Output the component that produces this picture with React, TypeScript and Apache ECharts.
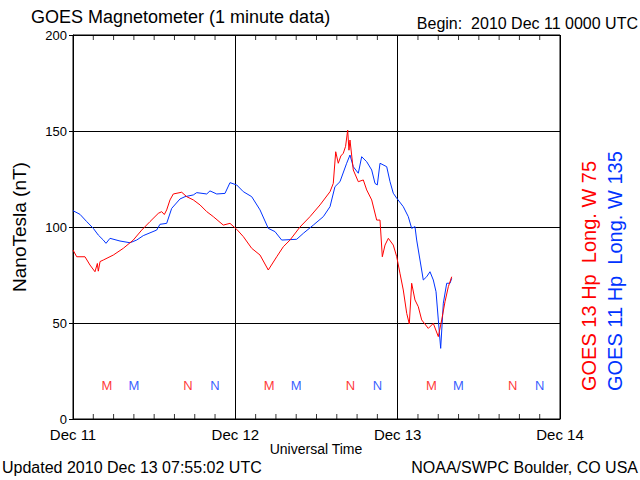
import React, { useEffect, useRef } from "react";
import * as echarts from "echarts";

// Hours since 2010 Dec 11 00:00 UTC
const dayLabels = ["Dec 11", "Dec 12", "Dec 13", "Dec 14"];

const redHours = [0, 0.55, 1.77, 2.51, 3.25, 3.6, 3.74, 4.0, 4.48, 5.96, 7.44, 8.91, 10.16, 11.38, 12.61, 13.11, 13.5, 13.85, 14.34, 14.83, 16.07, 16.81, 17.79, 18.78, 19.77, 20.74, 22.22, 23.21, 24.2, 25.18, 26.42, 27.65, 28.87, 30.12, 31.09, 32.08, 33.56, 35.04, 36.52, 38, 38.48, 38.84, 39.22, 39.6, 39.96, 40.3, 40.61, 40.8, 40.95, 41.44, 42.18, 42.92, 43.42, 44.16, 44.9, 45.39, 45.73, 46.13, 46.62, 47.35, 47.86, 48.34, 48.83, 49.34, 49.72, 50.07, 50.56, 51.05, 51.55, 52.53, 53.27, 54.01, 54.51, 55, 55.49, 55.99];
const redNT = [88, 84.5, 84.5, 80.2, 76.7, 81, 77, 82, 82.8, 85.4, 88.9, 93.2, 98.4, 102.8, 107.1, 108, 106.5, 108.9, 114.1, 117.2, 118.1, 115.8, 114.1, 111.5, 108, 105.4, 101, 101.9, 98.8, 95, 88.9, 85.4, 77.6, 84.5, 89.7, 93.2, 100, 105.4, 111.5, 118.4, 122.7, 139.2, 133.2, 137, 138.4, 142, 150.5, 140, 145.3, 129.7, 123.6, 124.5, 119.3, 114.1, 103.6, 103.6, 84.5, 90.6, 94.1, 90.6, 84.5, 75.9, 67.2, 55, 49.5, 70.7, 62, 58.5, 51.6, 47.2, 49.8, 42.9, 51.6, 61.1, 68.9, 74.1];

const blueHours = [0, 1.03, 2.03, 3, 3.74, 4.48, 4.88, 5.47, 6.95, 8.43, 9.42, 10.39, 12.37, 12.86, 13.85, 14.59, 15.82, 16.56, 17.79, 18.29, 19.77, 20.25, 21.25, 22.47, 23.21, 24.2, 25.18, 26.42, 27.65, 28.87, 29.86, 30.85, 33.07, 34.05, 35.53, 37.01, 38, 38.73, 39.47, 40.46, 40.95, 41.44, 42.18, 42.68, 43.42, 44.16, 44.65, 44.99, 45.39, 46.38, 46.87, 47.35, 47.86, 48.83, 49.57, 50.07, 50.56, 50.81, 51.3, 51.79, 52.29, 52.78, 53.27, 53.67, 54.01, 54.36, 54.75, 55.25, 55.74, 55.99];
const blueNT = [108.5, 106.6, 102.8, 99.3, 95.8, 93.2, 91.5, 94.1, 92.7, 91.8, 93.2, 95.5, 98.4, 101.4, 101.9, 109.7, 114.6, 115.8, 116.7, 117.9, 117.2, 118.8, 117.2, 117.5, 123.1, 121.9, 118.4, 115.8, 108.9, 99.3, 97.6, 93.2, 93.6, 96.7, 101, 105.4, 110.6, 121, 123.6, 133.2, 137.5, 131.4, 128, 136.6, 134, 129.7, 122.7, 121.9, 133.2, 131.4, 123.6, 117.6, 115, 110.6, 105.4, 99.3, 100.2, 93.2, 82.8, 72.4, 74.1, 76.7, 72.4, 66.3, 51.6, 36.8, 60.3, 70.7, 70.7, 73.3];

// Local midnight (M) and noon (N) markers
const redMidnight = [5, 29, 53];
const blueMidnight = [9, 33, 57];
const redNoon = [17, 41, 65];
const blueNoon = [21, 45, 69];
const markerLevel = 17.5;

// Minor time ticks every 3 hours
const tickHours = [3, 6, 9, 12, 15, 18, 21, 27, 30, 33, 36, 39, 42, 45, 51, 54, 57, 60, 63, 66, 69];
const yMin = 0;
const yMax = 200;

const RED = "#ff0000";
const BLUE = "#0033ff";
const FONT = "Liberation Sans";

function pairs(xs: number[], ys: number[]) {
  return xs.map((x, i) => [x, ys[i]]);
}

function markerSeries(hours: number[], letter: string, color: string) {
  return {
    type: "scatter",
    data: hours.map((h) => [h, markerLevel]),
    symbolSize: 1,
    itemStyle: { color: "rgba(0,0,0,0)" },
    label: {
      show: true,
      position: "inside",
      formatter: letter,
      color,
      fontFamily: FONT,
      fontSize: 13,
    },
    silent: true,
  };
}

function tickSeries(level: number, dy: number) {
  return {
    type: "scatter",
    data: tickHours.map((h) => [h, level]),
    symbol: "rect",
    symbolSize: [1, 5],
    symbolOffset: [0, dy],
    itemStyle: { color: "#000" },
    clip: false,
    silent: true,
    z: 5,
  };
}

export default function App() {
  const ref = useRef<HTMLDivElement>(null);
  useEffect(() => {
    if (!ref.current) return;
    const chart = echarts.init(ref.current, undefined, { renderer: "svg" });
    chart.setOption({
      animation: false,
      backgroundColor: "#fff",
      textStyle: { fontFamily: FONT },
      grid: { left: 73, right: 80, top: 35, bottom: 61, show: true, borderColor: "#000", borderWidth: 1 },
      xAxis: {
        type: "value",
        position: "bottom",
        min: 0,
        max: 72,
        interval: 24,
        axisLine: { show: true, lineStyle: { color: "#000", width: 1 } },
        axisTick: { show: false },
        axisLabel: {
          color: "#000",
          fontSize: 15,
          fontFamily: FONT,
          margin: 8,
          formatter: (v: number) => dayLabels[Math.round(v / 24)] ?? "",
        },
        splitLine: { show: true, lineStyle: { color: "#000", width: 1 } },
      },
      yAxis: {
        type: "value",
        min: yMin,
        max: yMax,
        interval: 50,
        axisLine: { show: true, lineStyle: { color: "#000" } },
        axisTick: { show: true, length: 4, lineStyle: { color: "#000" } },
        axisLabel: { color: "#000", fontSize: 13, fontFamily: FONT, margin: 6 },
        splitLine: { show: true, lineStyle: { color: "#000", width: 1 } },
        name: "NanoTesla (nT)",
        nameLocation: "middle",
        nameGap: 44,
        nameTextStyle: { color: "#000", fontSize: 19, fontFamily: FONT },
      },
      series: [
        {
          type: "line",
          data: pairs(blueHours, blueNT),
          showSymbol: false,
          lineStyle: { color: BLUE, width: 1 },
          itemStyle: { color: BLUE },
          silent: true,
        },
        {
          type: "line",
          data: pairs(redHours, redNT),
          showSymbol: false,
          lineStyle: { color: RED, width: 1 },
          itemStyle: { color: RED },
          silent: true,
        },
        markerSeries(redMidnight, "M", RED),
        markerSeries(blueMidnight, "M", BLUE),
        markerSeries(redNoon, "N", RED),
        markerSeries(blueNoon, "N", BLUE),
        tickSeries(yMin, -2.5),
        tickSeries(yMax, 2.5),
      ],
      graphic: [
        {
          type: "text",
          left: 31,
          top: 8,
          style: { text: "GOES Magnetometer (1 minute data)", fontSize: 18, fontFamily: FONT, fill: "#000" },
        },
        {
          type: "text",
          right: 2,
          top: 15,
          style: { text: "Begin:  2010 Dec 11 0000 UTC", fontSize: 16, fontFamily: FONT, fill: "#000" },
        },
        {
          type: "text",
          x: 316,
          y: 449,
          style: { text: "Universal Time", fontSize: 14, fontFamily: FONT, fill: "#000", align: "center", verticalAlign: "middle" },
        },
        {
          type: "text",
          left: 2,
          top: 459,
          style: { text: "Updated 2010 Dec 13 07:55:02 UTC", fontSize: 16, fontFamily: FONT, fill: "#000" },
        },
        {
          type: "text",
          right: 2,
          top: 459,
          style: { text: "NOAA/SWPC Boulder, CO USA", fontSize: 16, fontFamily: FONT, fill: "#000" },
        },
        {
          type: "text",
          x: 589,
          y: 391,
          rotation: Math.PI / 2,
          style: { text: "GOES 13 Hp  Long. W 75", fontSize: 20, fontFamily: FONT, fill: RED, align: "left", verticalAlign: "middle" },
        },
        {
          type: "text",
          x: 615,
          y: 391,
          rotation: Math.PI / 2,
          style: { text: "GOES 11 Hp  Long. W 135", fontSize: 20, fontFamily: FONT, fill: BLUE, align: "left", verticalAlign: "middle" },
        },
      ],
    });
    return () => chart.dispose();
  }, []);
  return <div ref={ref} style={{ position: "fixed", left: 0, top: 0, width: 640, height: 480 }} />;
}
